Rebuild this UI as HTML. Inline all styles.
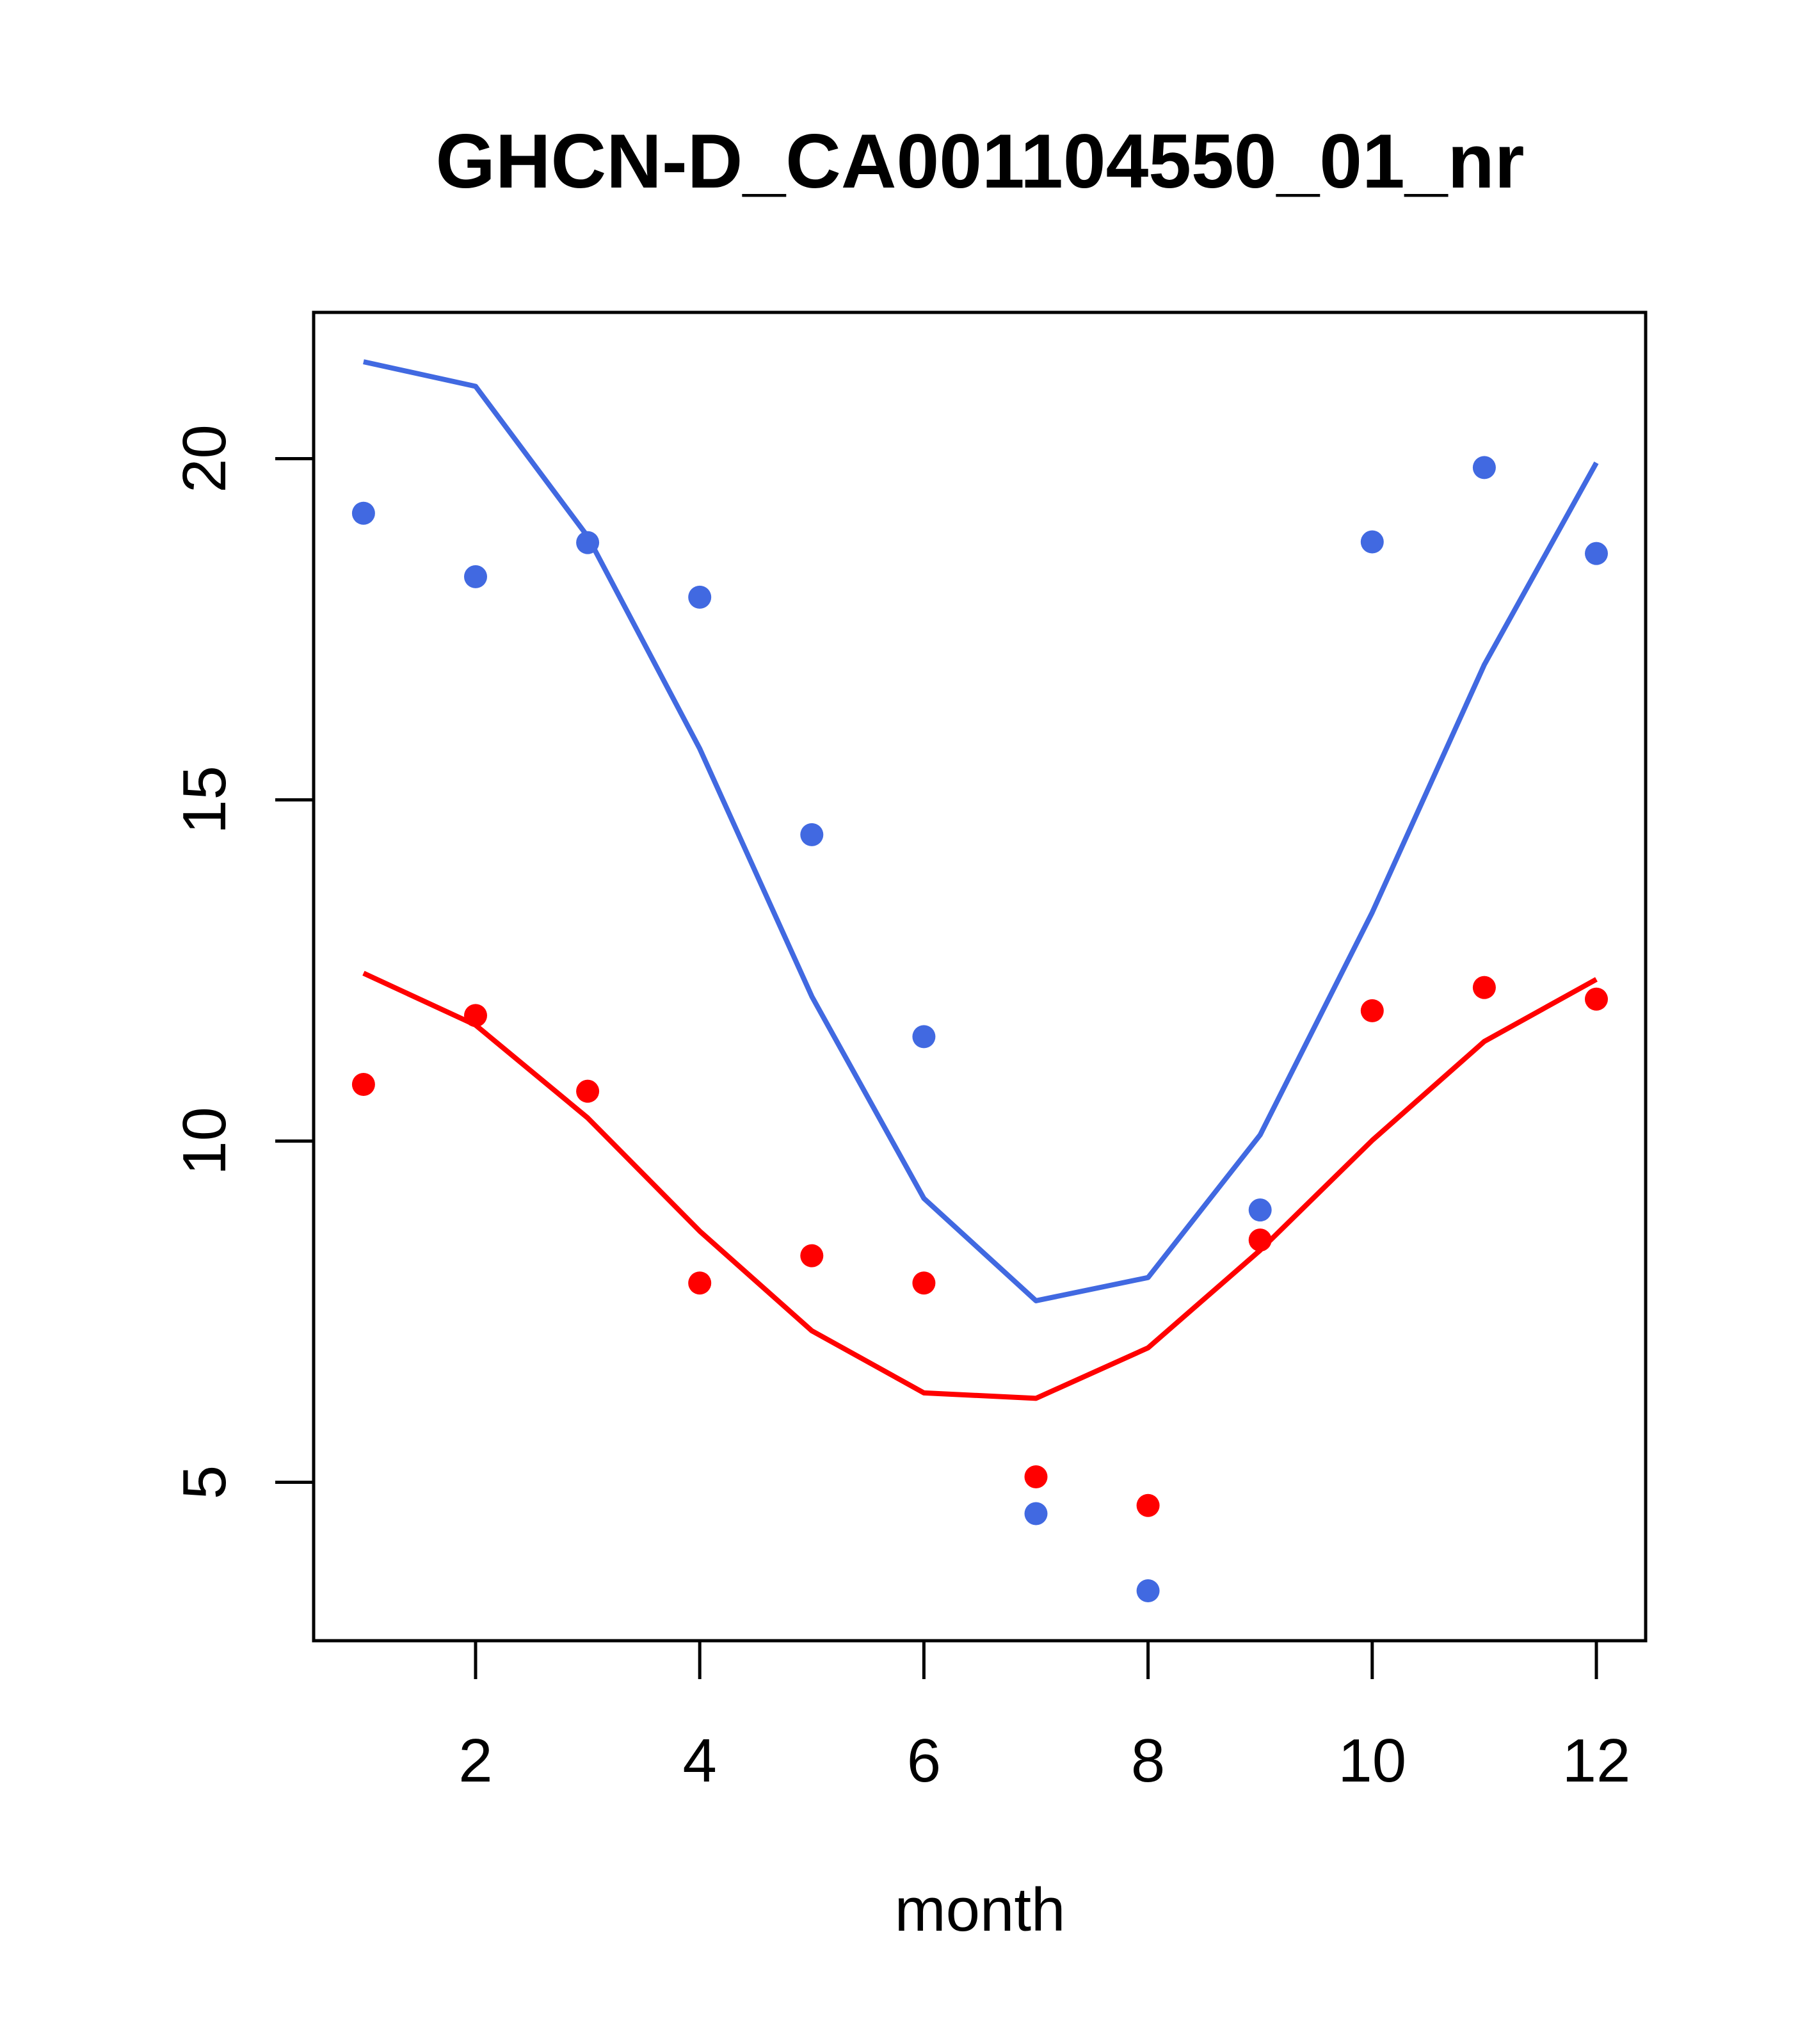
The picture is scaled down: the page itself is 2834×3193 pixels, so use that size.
<!DOCTYPE html>
<html><head><meta charset="utf-8"><style>html,body{margin:0;padding:0;background:#fff}</style></head>
<body>
<svg id="chart" width="2834" height="3188" xmlns="http://www.w3.org/2000/svg" font-family="Liberation Sans, sans-serif">
<rect width="2834" height="3188" fill="#fff"/>
<text x="1531" y="293" font-size="120" font-weight="bold" text-anchor="middle">GHCN-D_CA001104550_01_nr</text>
<rect x="490" y="488" width="2081" height="2075" fill="none" stroke="#000" stroke-width="5"/>
<text x="1531" y="3016" font-size="96" text-anchor="middle">month</text>
<g id="axes"></g>
<g id="marks"></g>
</svg>
<script>
const months = [1,2,3,4,5,6,7,8,9,10,11,12];
const blueLine = [21.42,21.06,18.86,15.75,12.12,9.16,7.66,8.0,10.09,13.35,16.98,19.94];
const bluePoints = [19.2,18.27,18.77,17.97,14.49,11.53,4.54,3.41,8.99,18.78,19.87,18.61];
const redLine = [12.46,11.70,10.34,8.68,7.22,6.31,6.23,6.97,8.40,10.01,11.46,12.37];
const redPoints = [10.83,11.84,10.73,7.92,8.32,7.92,5.08,4.66,8.55,11.91,12.25,12.08];
const xTicks = [2,4,6,8,10,12];
const yTicks = [5,10,15,20];

const NS = "http://www.w3.org/2000/svg";
function xs(v){ return 743 + (v-2)*175.1; }
function ys(v){ return 2315.5 - (v-5)*106.6; }
function mk(tag, attrs, parent){
  const e = document.createElementNS(NS, tag);
  for (const k in attrs) e.setAttribute(k, attrs[k]);
  parent.appendChild(e); return e;
}
const axes = document.getElementById('axes');
const marks = document.getElementById('marks');
xTicks.forEach(t=>{
  const l = mk('line',{x1:xs(t),x2:xs(t),y1:2563,y2:2623,stroke:'#000','stroke-width':5},axes);
  
  
  const tx = mk('text',{x:xs(t),y:2783,'font-size':96,'text-anchor':'middle'},axes);
  tx.textContent = t;
  
  
});
yTicks.forEach(t=>{
  const l = mk('line',{x1:430,x2:490,y1:ys(t),y2:ys(t),stroke:'#000','stroke-width':5},axes);
  
  
  const tx = mk('text',{x:0,y:0,'font-size':96,'text-anchor':'middle',transform:`translate(352,${ys(t)}) rotate(-90)`},axes);
  tx.textContent = t;
  
  
});
function line(vals,color,name){
  const p = mk('polyline',{points:vals.map((v,i)=>xs(months[i])+','+ys(v)).join(' '),fill:'none',stroke:color,'stroke-width':8,'stroke-linejoin':'round'},marks);
  
  
}
function pts(vals,color,name){
  vals.forEach((v,i)=>{
    const c = mk('circle',{cx:xs(months[i]),cy:ys(v),r:18,fill:color},marks);
    
    
  });
}
line(blueLine,'#4169E1','blue-line');
line(redLine,'#FF0000','red-line');
pts(bluePoints,'#4169E1','blue-point');
pts(redPoints,'#FF0000','red-point');
</script>
</body></html>
